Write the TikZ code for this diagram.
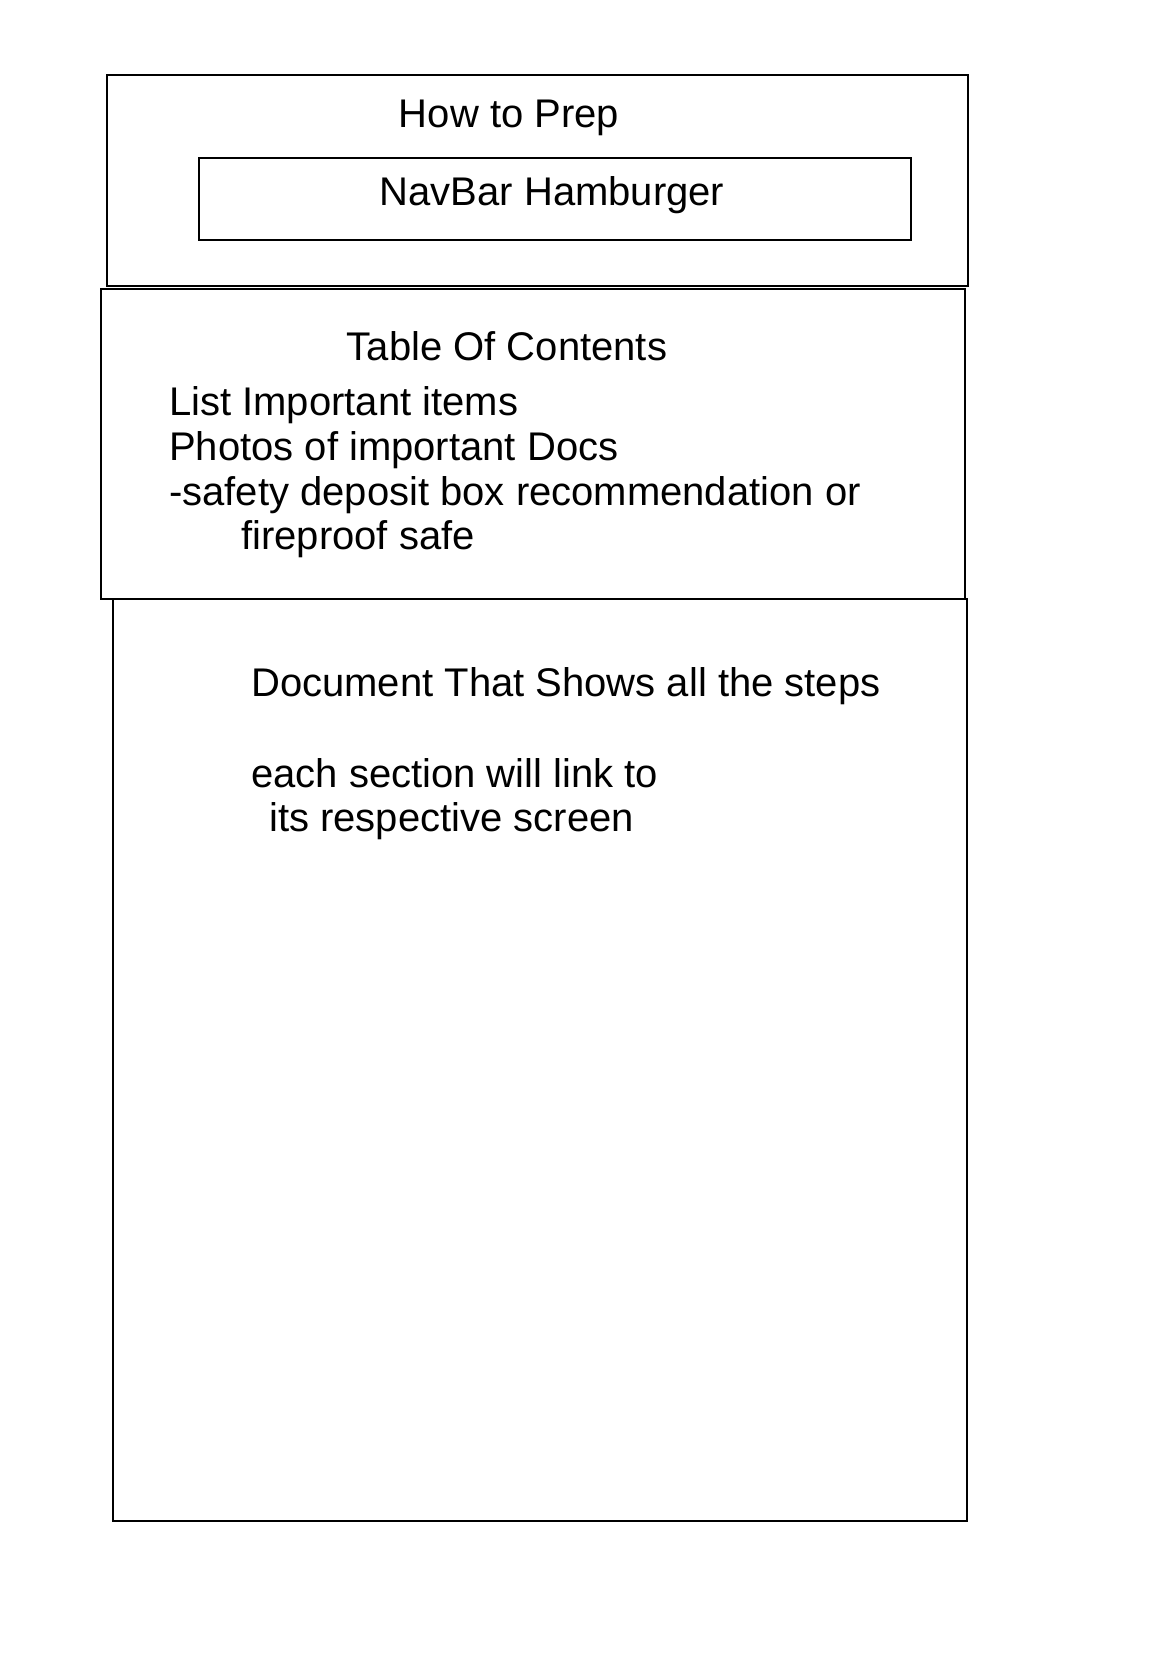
\documentclass[tikz,border=0pt]{standalone}
\usepackage{fontspec}
\setmainfont{Liberation Sans}
\usetikzlibrary{positioning}

\begin{document}
\begin{tikzpicture}[x=1pt, y=-1pt,
				panel/.style={rectangle, draw=black, line width=2.5pt, inner sep=0pt},
				bar/.style={rectangle, draw=black, line width=2pt, inner sep=0pt},
				title/.style={font=\fontsize{40}{45}\selectfont, inner sep=0pt, anchor=base},
				item/.style={font=\fontsize{40}{45}\selectfont, inner sep=0pt, anchor=base west}
			]
			\useasboundingbox[fill=white] (0,0) rectangle (1164,1656);
			% the three screen sections
			\node[panel, minimum width=861pt, minimum height=211pt] (header) at (537.5,180.5) {};
			\node[panel, minimum width=864pt, minimum height=310pt] (contents) at (533,444) {};
			\node[panel, minimum width=854pt, minimum height=922pt] (document) at (540,1060) {};
			\node[bar, minimum width=712pt, minimum height=82pt] (navbar) at (555,199) {};
			% header
			\node[title] (prep) at (509,128) {How to Prep};
			\node[title] (hamburger) at (552,205) {NavBar Hamburger};
			% table of contents
			\node[title] (toc) at (507,360) {Table Of Contents};
			\node[item] (items) at (169,415) {List Important items};
			\node[item] (photos) at (169,460) {Photos of important Docs};
			\node[item] (safety) at (169,505) {-safety deposit box recommendation or};
			\node[item] (fireproof) at (241,549) {fireproof safe};
			% document body
			\node[item] (steps) at (251,696) {Document That Shows all the steps};
			\node[item] (link) at (251,787) {each section will link to};
			\node[item] (screen) at (269,831) {its respective screen};
			\end{tikzpicture}
\end{document}
